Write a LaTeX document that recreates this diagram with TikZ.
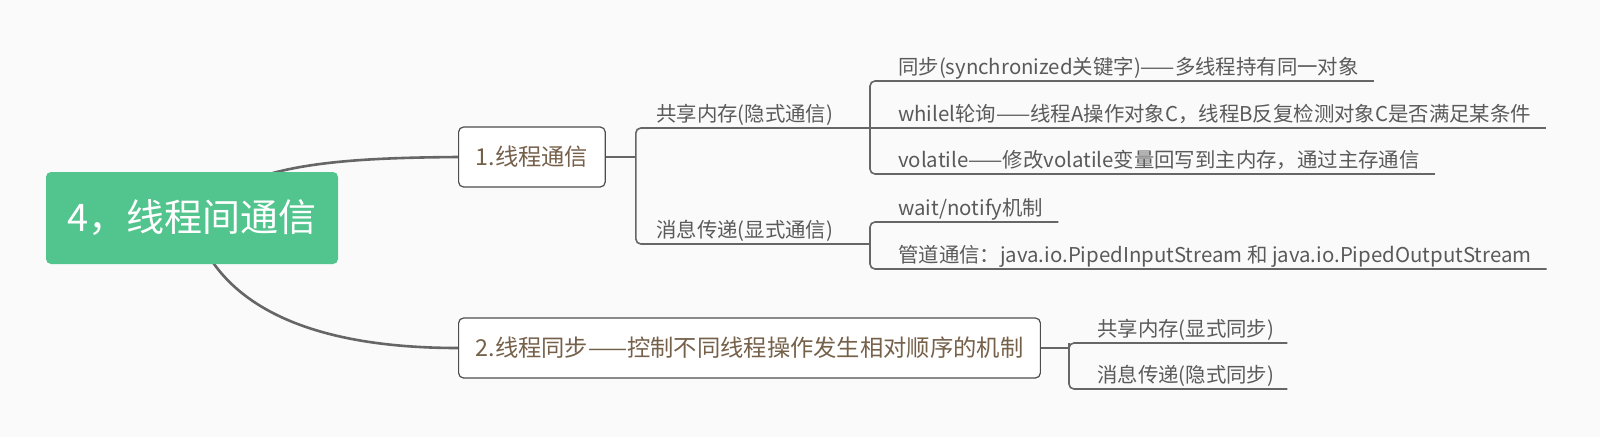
\documentclass[tikz,border=0pt]{standalone}
\usepackage{fontspec}
\setmainfont{Noto Sans CJK SC}
\usetikzlibrary{backgrounds}
\definecolor{bgcol}{HTML}{FAFAFA}
\definecolor{rootgreen}{HTML}{52C48D}
\definecolor{boxgray}{HTML}{4D4D4D}
\definecolor{linegray}{HTML}{666666}
\definecolor{brown}{HTML}{75604A}
\definecolor{textgray}{HTML}{5A5A5A}
\begin{document}
\begin{tikzpicture}[x=1pt, y=-1pt,
        topic/.style={rounded corners=5pt,fill=rootgreen,text=white,
      inner sep=0pt,minimum width=292pt,minimum height=92pt,
      font=\fontsize{38}{44}\selectfont},
        subtopic/.style={anchor=west,draw=boxgray,line width=1.2pt,
      rounded corners=5pt,fill=white,text=brown,inner xsep=17pt,
      minimum height=60pt,font=\fontsize{23.3}{28}\selectfont},
        item/.style={anchor=base west,inner sep=0pt,text=textgray,
      font=\fontsize{20.4}{24}\selectfont},
        curve/.style={linegray,line width=2.6pt},
        branch/.style={linegray,line width=1.6pt,rounded corners=5pt}]

	\useasboundingbox (0,0) rectangle (1600,437);

	\node [topic] (root) at (192,218) {4，线程间通信};
        \node [subtopic] (comm) at (458,157) {1.线程通信};
        \node [subtopic] (sync) at (458,348) {2.线程同步——控制不同线程操作发生相对顺序的机制};

        \node [item] (shm) at (656,121) {共享内存(隐式通信)};
        \node [item] (msg) at (656,237) {消息传递(显式通信)};
        \node [item] (lock) at (898,74) {同步(synchronized关键字)——多线程持有同一对象};
        \node [item] (poll) at (898,121) {whilel轮询——线程A操作对象C，线程B反复检测对象C是否满足某条件};
        \node [item] (vol) at (898,167) {volatile——修改volatile变量回写到主内存，通过主存通信};
        \node [item] (wait) at (898,215) {wait/notify机制};
        \node [item] (pipe) at (898,262) {管道通信：java.io.PipedInputStream 和 java.io.PipedOutputStream};
        \node [item] (shm2) at (1097,336) {共享内存(显式同步)};
        \node [item] (msg2) at (1097,382) {消息传递(隐式同步)};

        \coordinate (k1) at (870,128);
        \coordinate (k2) at (870,244);

        \draw [branch] (comm.east) -- ++(30,0) coordinate (j1);
        \draw [branch] (k1) -| (j1) |- (k2);
        \draw [branch] ([shift={(15,7)}]lock.base east) -| (k1) |- ([shift={(15,7)}]vol.base east);
        \draw [branch] (k1) -- ([shift={(15,7)}]poll.base east);
        \draw [branch] ([shift={(15,7)}]wait.base east) -| (k2) |- ([shift={(15,7)}]pipe.base east);

        \draw [branch] (sync.east) -- ++(28,0) coordinate (j2);
        \draw [branch] ([shift={(13,7)}]shm2.base east) -| (j2) |- ([shift={(13,7)}]msg2.base east);

        \begin{scope}[on background layer]
          \fill [bgcol] (0,0) rectangle (1600,437);
          \draw [curve] (root.center) .. controls (240,165) and (330,158) .. (comm.west);
          \draw [curve] (root.center) .. controls (215,300) and (300,348) .. (sync.west);
        \end{scope}
\end{tikzpicture}
\end{document}
